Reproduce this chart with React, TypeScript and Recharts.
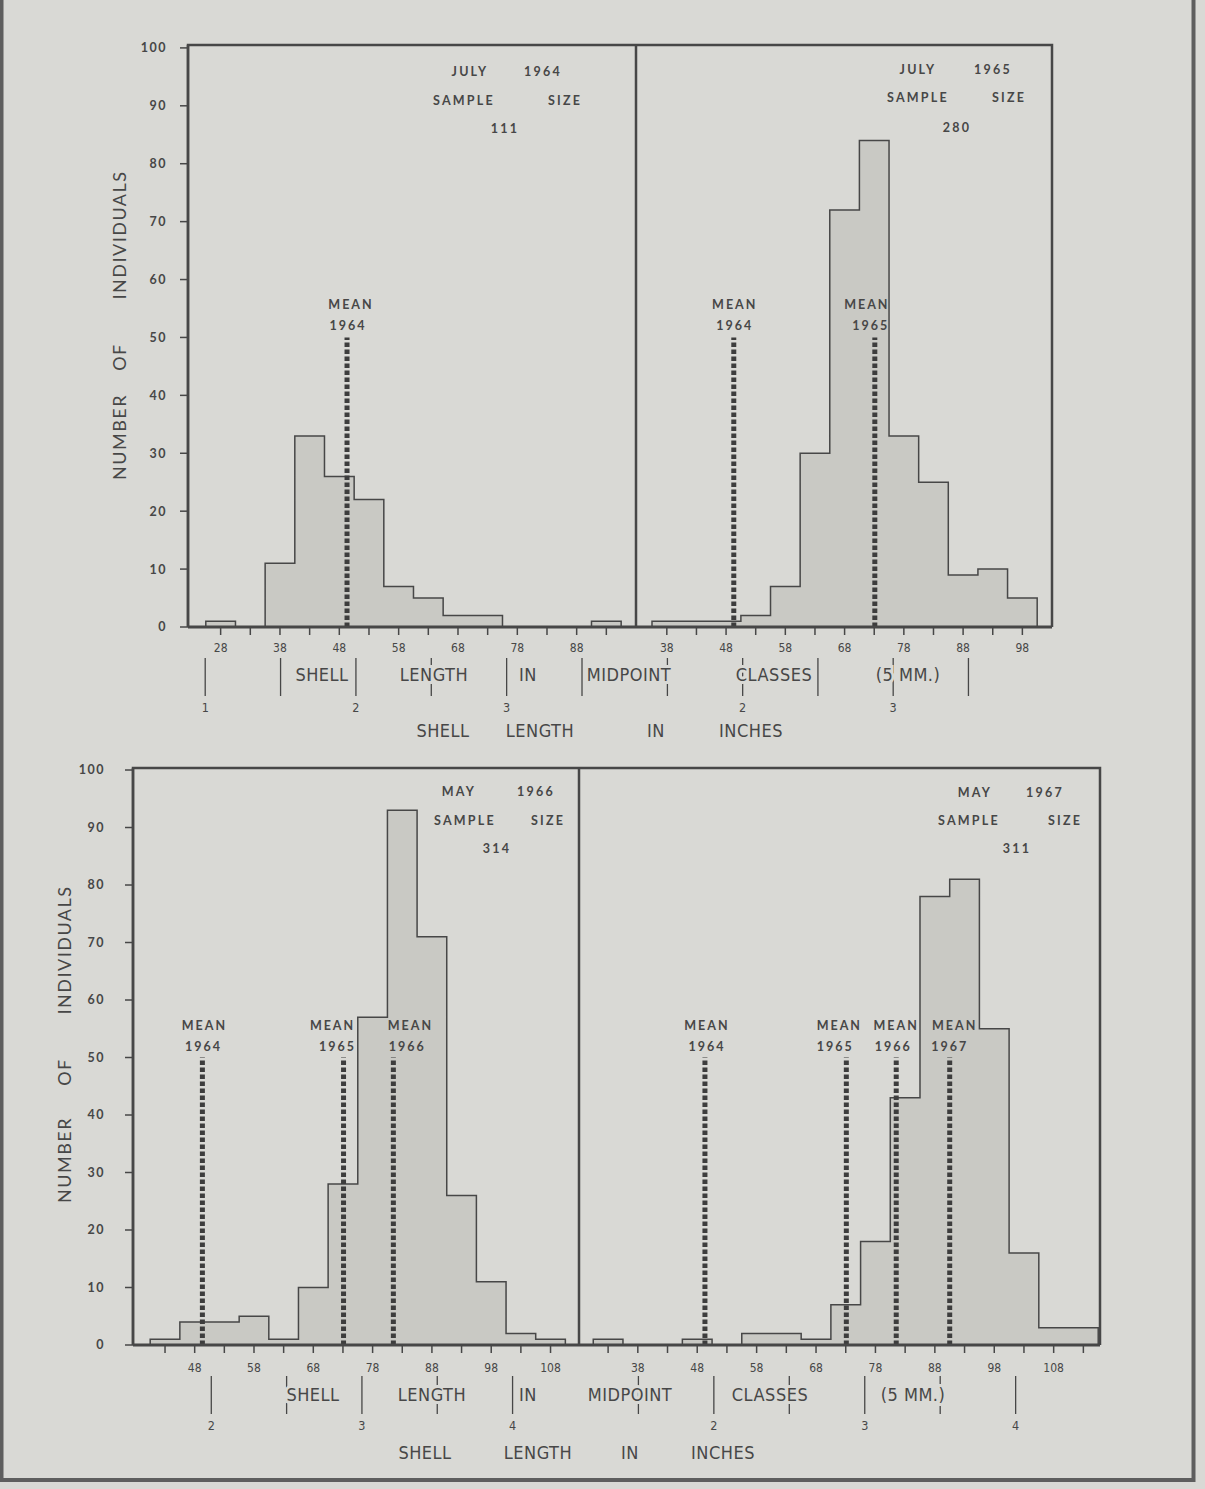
import React from 'react';
import { ComposedChart, Area, XAxis, YAxis, ReferenceLine } from 'recharts';

const BG = '#d9d9d5';
const INK = '#474747';
const FILL = '#c9c9c4';
const FONT = 'Lato, "DejaVu Sans", sans-serif';
const COND = '"DejaVu Sans Condensed", "Liberation Sans Narrow", Roboto, sans-serif';

// class midpoints (mm, 5 mm classes) and counts
const july64Classes = [28, 33, 38, 43, 48, 53, 58, 63, 68, 73, 78, 83, 88, 93];
const july64Counts = [1, 0, 11, 33, 26, 22, 7, 5, 2, 2, 0, 0, 0, 1];

const july65Classes = [38, 43, 48, 53, 58, 63, 68, 73, 78, 83, 88, 93, 98];
const july65Counts = [1, 1, 1, 2, 7, 30, 72, 84, 33, 25, 9, 10, 5];

const may66Classes = [43, 48, 53, 58, 63, 68, 73, 78, 83, 88, 93, 98, 103, 108];
const may66Counts = [1, 4, 4, 5, 1, 10, 28, 57, 93, 71, 26, 11, 2, 1];

const may67Classes = [33, 38, 43, 48, 53, 58, 63, 68, 73, 78, 83, 88, 93, 98, 103, 108, 113];
const may67Counts = [1, 0, 0, 1, 0, 2, 2, 1, 7, 18, 43, 78, 81, 55, 16, 3, 3];

// mean shell length (mm) per year
const meanYears = ['1964', '1965', '1966', '1967'];
const meanValues = [49.3, 73.1, 81.5, 90.5];

// sample headers
const sampleMonths = ['JULY', 'JULY', 'MAY', 'MAY'];
const sampleYears = ['1964', '1965', '1966', '1967'];
const sampleSizes = [111, 280, 314, 311];

// axis ticks
const yTicks = [0, 10, 20, 30, 40, 50, 60, 70, 80, 90, 100];
const ticksJuly64 = [28, 33, 38, 43, 48, 53, 58, 63, 68, 73, 78, 83, 88, 93];
const ticksJuly65 = [38, 43, 48, 53, 58, 63, 68, 73, 78, 83, 88, 93, 98];
const ticksMay66 = [43, 48, 53, 58, 63, 68, 73, 78, 83, 88, 93, 98, 103, 108];
const ticksMay67 = [33, 38, 43, 48, 53, 58, 63, 68, 73, 78, 83, 88, 93, 98, 103, 108, 113];
// inch marks expressed in mm (every half inch)
const inchJuly64 = [25.4, 38.1, 50.8, 63.5, 76.2, 88.9];
const inchJuly65 = [38.1, 50.8, 63.5, 76.2, 88.9];
const inchMay66 = [50.8, 63.5, 76.2, 88.9, 101.6];
const inchMay67 = [38.1, 50.8, 63.5, 76.2, 88.9, 101.6];

const toSteps = (classes: number[], counts: number[]) => {
  const pts = [{ x: classes[0] - 2.5, n: 0 }];
  classes.forEach((c, i) => pts.push({ x: c - 2.5, n: counts[i] }));
  pts.push({ x: classes[classes.length - 1] + 2.5, n: 0 });
  return pts;
};

const InchTick = (props: any) => {
  const { x, y, payload } = props;
  const inches = payload.value / 25.4;
  const whole = Math.abs(inches - Math.round(inches)) < 0.01;
  return (
    <g>
      <line x1={x} x2={x} y1={y + 1} y2={y + 39} stroke={INK} strokeWidth={1.3} />
      {whole && (
        <text x={x} y={y + 55} textAnchor="middle" fontSize={12.5} fill={INK} fontFamily={COND}>
          {Math.round(inches)}
        </text>
      )}
    </g>
  );
};

const MeanLabel = (props: any) => {
  const { viewBox, year, dx = 0, dxYear = 0 } = props;
  if (!viewBox) return null;
  const top = Math.min(viewBox.y, viewBox.y + (viewBox.height || 0));
  const st = { fontFamily: FONT, fontWeight: 700, fontSize: 12.5, letterSpacing: 2, fill: INK } as any;
  return (
    <g>
      <text x={viewBox.x + dx} y={top - 28} textAnchor="middle" style={st}>MEAN</text>
      <text x={viewBox.x + dxYear} y={top - 7} textAnchor="middle" style={st}>{year}</text>
    </g>
  );
};

type PanelProps = {
  left: number; top: number; width: number; height: number;
  margin: any; classes: number[]; counts: number[]; domain: [number, number];
  ticks: number[]; inchTicks: number[]; yMax: number; showY: boolean; yTickMargin: number;
  xTickMargin: number; means: number[]; meanDx: number[]; meanDxYear: number[];
};

const Panel = (p: PanelProps) => (
  <div style={{ position: 'absolute', left: p.left, top: p.top }}>
    <ComposedChart width={p.width} height={p.height} data={toSteps(p.classes, p.counts)} margin={p.margin}>
      <XAxis
        xAxisId="b_in" dataKey="x" type="number" domain={p.domain} ticks={p.inchTicks} interval={0}
        allowDataOverflow height={80} axisLine={false} tickLine={false} tickSize={0} tickMargin={0}
        tick={<InchTick />}
      />
      <XAxis
        xAxisId="a_mm" dataKey="x" type="number" domain={p.domain} ticks={p.ticks} interval={0}
        allowDataOverflow height={30}
        axisLine={{ stroke: INK, strokeWidth: 3 }}
        tickLine={{ stroke: INK, strokeWidth: 1.5 }} tickSize={8} tickMargin={p.xTickMargin}
        tickFormatter={(v: number) => (v % 10 === 8 ? String(v) : '')}
        tick={{ fill: INK, fontSize: 12, fontFamily: COND }}
      />
      <YAxis
        type="number" domain={[0, p.yMax]} ticks={yTicks} interval={0} allowDataOverflow
        hide={!p.showY} width={p.showY ? 60 : 0}
        axisLine={{ stroke: INK, strokeWidth: 2.5 }}
        tickLine={{ stroke: INK, strokeWidth: 1.5 }} tickSize={8} tickMargin={p.yTickMargin}
        tick={{ fill: INK, fontSize: 12.5, fontFamily: FONT, fontWeight: 700, letterSpacing: 1.5 }}
      />
      {/* invisible twin on the inch axis so it shares the same scale */}
      <Area
        xAxisId="b_in" type="stepAfter" dataKey="n" stroke="none" fill="none"
        isAnimationActive={false} dot={false} activeDot={false}
      />
      <Area
        xAxisId="a_mm" type="stepAfter" dataKey="n" stroke={INK} strokeWidth={1.5}
        fill={FILL} fillOpacity={1} isAnimationActive={false} dot={false} activeDot={false}
      />
      {p.means.map((yi, i) => (
        <ReferenceLine
          key={yi}
          xAxisId="a_mm"
          segment={[{ x: meanValues[yi], y: 0 }, { x: meanValues[yi], y: 50 }]}
          stroke="#3d3d3d" strokeWidth={5} strokeDasharray="4.5 2.5" ifOverflow="visible"
          label={<MeanLabel year={meanYears[yi]} dx={p.meanDx[i]} dxYear={p.meanDxYear[i]} />}
        />
      ))}
    </ComposedChart>
  </div>
);

const annStyle = { fontFamily: FONT, fontWeight: 700, fontSize: 12.5, letterSpacing: 2.2, fill: INK } as any;
const capStyle = {
  fontFamily: COND, fontSize: 18, letterSpacing: 0.5, fill: INK,
  stroke: BG, strokeWidth: 6, paintOrder: 'stroke',
} as any;
const yLabStyle = { fontFamily: FONT, fontSize: 18, letterSpacing: 1.5, fill: INK } as any;

// header text anchors: [month, year, SAMPLE, SIZE, n] centers
const headerPos = [
  [[470, 76], [543, 76], [464, 105], [565, 105], [505, 133]],
  [[918, 74], [993, 74], [918, 102], [1009, 102], [957, 132]],
  [[459, 796], [536, 796], [465, 825], [548, 825], [497, 853]],
  [[975, 797], [1045, 797], [969, 825], [1065, 825], [1017, 853]],
];

const Caption = ({ y, xs }: { y: number; xs: number[] }) => {
  const words = ['SHELL', 'LENGTH', 'IN', 'MIDPOINT', 'CLASSES', '(5 MM.)'];
  return (
    <g>
      {words.map((w, i) => (
        <text key={w} x={xs[i]} y={y} textAnchor="middle" style={capStyle}>{w}</text>
      ))}
    </g>
  );
};

const InchCaption = ({ y, xs }: { y: number; xs: number[] }) => {
  const words = ['SHELL', 'LENGTH', 'IN', 'INCHES'];
  return (
    <g>
      {words.map((w, i) => (
        <text key={w} x={xs[i]} y={y} textAnchor="middle" style={capStyle}>{w}</text>
      ))}
    </g>
  );
};

const YLabel = ({ x, ys }: { x: number; ys: number[] }) => {
  const words = ['NUMBER', 'OF', 'INDIVIDUALS'];
  return (
    <g>
      {words.map((w, i) => (
        <text key={w} transform={`translate(${x}, ${ys[i]}) rotate(-90)`} textAnchor="middle" style={yLabStyle}>{w}</text>
      ))}
    </g>
  );
};

export default function App() {
  return (
    <div style={{ position: 'absolute', left: 0, top: 0, width: 1205, height: 1489, background: BG, overflow: 'hidden' }}>
      <Panel
        left={100} top={0} width={545} height={740} margin={{ top: 45, right: 9, bottom: 3, left: 28 }}
        classes={july64Classes} counts={july64Counts} domain={[22.5, 98]} ticks={ticksJuly64}
        inchTicks={inchJuly64} yMax={100.5} showY yTickMargin={13} xTickMargin={8}
        means={[0]} meanDx={[4]} meanDxYear={[1]}
      />
      <Panel
        left={636} top={0} width={430} height={740} margin={{ top: 45, right: 14, bottom: 3, left: 0 }}
        classes={july65Classes} counts={july65Counts} domain={[32.8, 103]} ticks={ticksJuly65}
        inchTicks={inchJuly65} yMax={100.5} showY={false} yTickMargin={13} xTickMargin={8}
        means={[0, 1]} meanDx={[1, -8]} meanDxYear={[1, -4]}
      />
      <Panel
        left={40} top={720} width={545} height={738} margin={{ top: 48, right: 6, bottom: 3, left: 33 }}
        classes={may66Classes} counts={may66Counts} domain={[37.6, 112.8]} ticks={ticksMay66}
        inchTicks={inchMay66} yMax={100.35} showY yTickMargin={20} xTickMargin={10}
        means={[0, 1, 2]} meanDx={[2, -11, 17]} meanDxYear={[1, -6, 14]}
      />
      <Panel
        left={579} top={720} width={535} height={738} margin={{ top: 48, right: 14, bottom: 3, left: 0 }}
        classes={may67Classes} counts={may67Counts} domain={[28.1, 115.8]} ticks={ticksMay67}
        inchTicks={inchMay67} yMax={100.35} showY={false} yTickMargin={20} xTickMargin={10}
        means={[0, 1, 2, 3]} meanDx={[2, -7, 0, 5]} meanDxYear={[2, -11, -3, 0]}
      />
      <svg width={1205} height={1489} style={{ position: 'absolute', left: 0, top: 0, pointerEvents: 'none' }}>
        {/* plate frames */}
        <g stroke={INK} strokeWidth={2.5} fill="none">
          <polyline points="188,627 188,45 1052,45 1052,627" />
          <line x1={636} y1={45} x2={636} y2={627} />
          <polyline points="133,1345 133,768 1100,768 1100,1345" />
          <line x1={579} y1={768} x2={579} y2={1345} />
        </g>
        {headerPos.map((pos, i) => {
          const words = [sampleMonths[i], sampleYears[i], 'SAMPLE', 'SIZE', String(sampleSizes[i])];
          return (
            <g key={i}>
              {words.map((w, j) => (
                <text key={j} x={pos[j][0]} y={pos[j][1]} textAnchor="middle" style={annStyle}>{w}</text>
              ))}
            </g>
          );
        })}
        <Caption y={681} xs={[322, 434, 528, 629, 774, 908]} />
        <InchCaption y={737} xs={[443, 540, 656, 751]} />
        <Caption y={1401} xs={[313, 432, 528, 630, 770, 913]} />
        <InchCaption y={1459} xs={[425, 538, 630, 723]} />
        <YLabel x={126} ys={[437, 357, 235]} />
        <YLabel x={71} ys={[1160, 1072, 950]} />
        {/* page edge */}
        <rect x={1.5} y={-5} width={1192} height={1485} fill="none" stroke="#5e5e5e" strokeWidth={4} />
      </svg>
    </div>
  );
}
